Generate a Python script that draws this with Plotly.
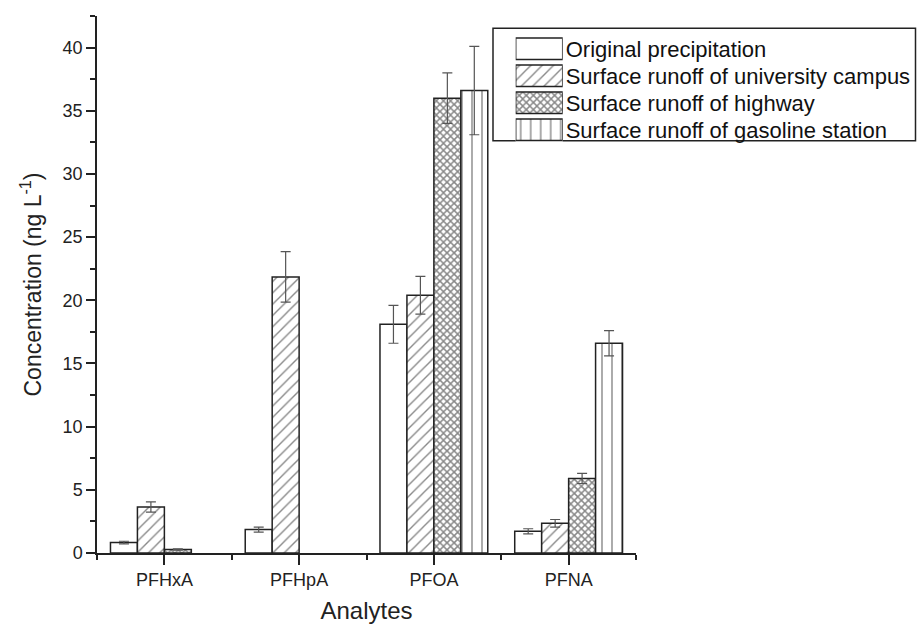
import plotly.graph_objects as go

categories = ["PFHxA", "PFHpA", "PFOA", "PFNA"]
series_names = [
    "Original precipitation",
    "Surface runoff of university campus",
    "Surface runoff of highway",
    "Surface runoff of gasoline station",
]
original = [0.83, 1.85, 18.1, 1.72]
original_err = [0.1, 0.2, 1.5, 0.2]
campus = [3.64, 21.85, 20.4, 2.35]
campus_err = [0.4, 2.0, 1.5, 0.3]
highway = [0.27, None, 36.0, 5.9]
highway_err = [0.05, None, 2.0, 0.4]
gasoline = [None, None, 36.6, 16.6]
gasoline_err = [None, None, 3.5, 1.0]

values = [original, campus, highway, gasoline]
errors = [original_err, campus_err, highway_err, gasoline_err]
patterns = ["", "/", "x", "|"]
pattern_sizes = [8, 8, 5, 10]
pattern_solidity = [0.2, 0.17, 0.5, 0.14]

W, H = 917, 626
L, R, T, B = 97, 5, 16, 73
PW = W - L - R
PH = H - T - B

def px_x(x):
    return (x - L) / PW

def px_y(y):
    return (H - B - y) / PH

xs = list(range(len(categories)))
fig = go.Figure()
for name, vals, errs, pat, ps, sol in zip(series_names, values, errors, patterns,
                                           pattern_sizes, pattern_solidity):
    fig.add_trace(go.Bar(
        x=xs, y=vals, name=name, showlegend=False,
        marker=dict(color="white", line=dict(color="#222", width=1.5),
                    pattern=dict(shape=pat, fgcolor="#111", bgcolor="white",
                                 size=ps, solidity=sol)),
        error_y=dict(type="data", array=errs, visible=True,
                     color="#555", thickness=1.2, width=5),
        xaxis="x", yaxis="y",
    ))

# legend built as a small bar subplot
fig.add_trace(go.Bar(
    y=series_names, x=[1] * len(series_names), orientation="h",
    showlegend=False, hoverinfo="skip",
    marker=dict(color="white", line=dict(color="#222", width=1.5),
                pattern=dict(shape=patterns, fgcolor="#111", bgcolor="white",
                             size=pattern_sizes, solidity=pattern_solidity)),
    xaxis="x2", yaxis="y2",
))

font_fam = "Liberation Sans, Arial, sans-serif"
fig.update_layout(
    width=W, height=H,
    margin=dict(l=L, r=R, t=T, b=B),
    paper_bgcolor="white", plot_bgcolor="white",
    barmode="group", bargap=0.2, bargroupgap=0,
    font=dict(family=font_fam, color="#222"),
    xaxis=dict(
        domain=[0, px_x(636)], range=[-0.5, 3.5],
        tickmode="array", tickvals=xs, ticktext=categories,
        ticks="outside", ticklen=10, tickwidth=1.5, tickcolor="#222",
        minor=dict(tickvals=[-0.5, 0.5, 1.5, 2.5, 3.5], ticks="outside",
                   ticklen=5, tickwidth=1.5, tickcolor="#222"),
        showline=True, linecolor="#222", linewidth=1.5,
        showgrid=False, zeroline=False,
        tickfont=dict(size=18),
        title=dict(text="Analytes", font=dict(size=24), standoff=13),
    ),
    yaxis=dict(
        domain=[0, 1], range=[0, 42.5],
        tickmode="linear", tick0=0, dtick=5,
        ticks="outside", ticklen=9, tickwidth=1.5, tickcolor="#222",
        minor=dict(dtick=2.5, ticks="outside", ticklen=5, tickwidth=1.5,
                   tickcolor="#222"),
        showline=True, linecolor="#222", linewidth=1.5,
        showgrid=False, zeroline=False,
        tickfont=dict(size=18),
        title=dict(text="Concentration (ng L<sup>-1</sup>)", font=dict(size=23),
                   standoff=15),
    ),
    xaxis2=dict(
        domain=[px_x(515.7), px_x(562.7)], range=[0, 1], anchor="y2",
        visible=False, fixedrange=True,
    ),
    yaxis2=dict(
        domain=[px_y(143.3), px_y(35.3)], anchor="x2", side="right",
        autorange="reversed", type="category",
        showline=False, showgrid=False, zeroline=False, ticks="",
        ticklabelstandoff=2,
        tickfont=dict(size=22, color="#111"), fixedrange=True,
    ),
    shapes=[dict(type="rect", xref="paper", yref="paper",
                 x0=px_x(493), x1=px_x(915.5), y0=px_y(140.7), y1=px_y(28.3),
                 line=dict(color="#222", width=1.5), fillcolor="rgba(0,0,0,0)",
                 layer="below")],
)

fig.write_html("out.html", config={"displayModeBar": False},
               post_script="document.body.style.margin='0px';")
